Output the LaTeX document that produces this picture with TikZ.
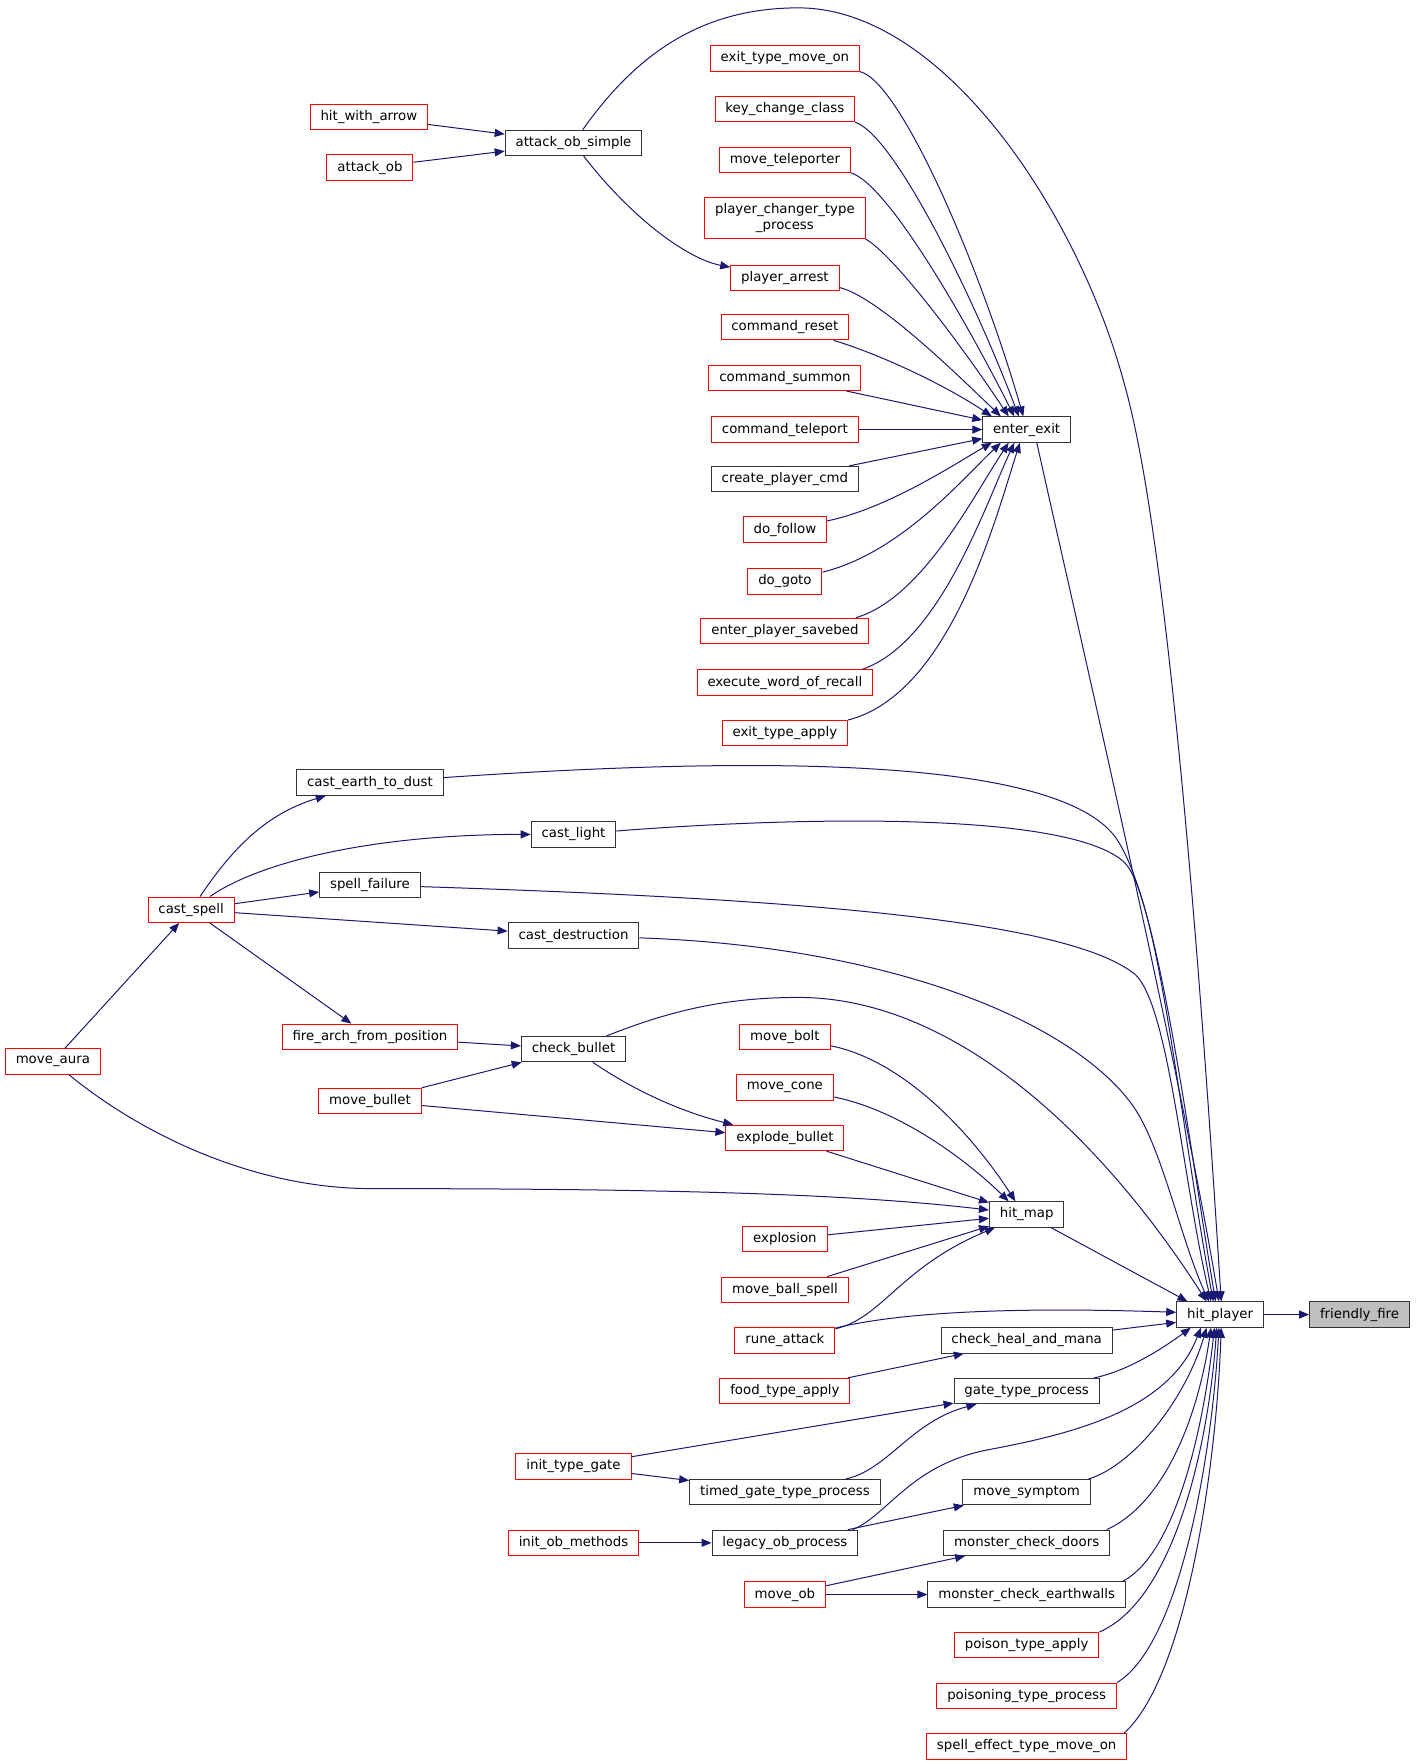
\documentclass[tikz,border=0pt]{standalone}
\usepackage{fontspec}
\setmainfont{DejaVu Sans}
\usetikzlibrary{arrows.meta}
\definecolor{edgeblue}{RGB}{25,25,112}
\definecolor{nodered}{RGB}{255,0,0}
\definecolor{nodegray}{RGB}{191,191,191}
\definecolor{nodeborder}{RGB}{51,51,51}
\begin{document}
\begin{tikzpicture}[x=0.8434pt,y=-0.8434pt,
  fn/.style={rectangle, draw, line width=0.75pt, minimum height=19pt, inner xsep=7.8pt, inner ysep=0pt, font=\fontsize{10}{11.8}\selectfont},
  redfn/.style={fn, draw=nodered},
  blackfn/.style={fn, draw=nodeborder},
  rootfn/.style={fn, draw=nodeborder, fill=nodegray},
  call/.style={draw=edgeblue, line width=0.75pt, -{Triangle[length=7.5pt,width=6pt]}}
]
\useasboundingbox (0,-2) rectangle (1259.2,1566.7);
% column 1-2
\node[redfn] (mau) at (47,942) {move\_aura};
\node[redfn] (cs) at (170,807) {cast\_spell};
% column 3
\node[redfn] (hwa) at (328,102) {hit\_with\_arrow};
\node[redfn] (aob) at (329,147) {attack\_ob};
\node[blackfn] (cetd) at (329,694) {cast\_earth\_to\_dust};
\node[blackfn] (sf) at (329,785) {spell\_failure};
\node[redfn] (fafp) at (329,920) {fire\_arch\_from\_position};
\node[redfn] (mb) at (329,977) {move\_bullet};
% column 4
\node[blackfn] (aos) at (510,125) {attack\_ob\_simple};
\node[blackfn] (cl) at (510,740) {cast\_light};
\node[blackfn] (cd) at (510,830) {cast\_destruction};
\node[blackfn] (cb) at (510,931) {check\_bullet};
\node[redfn] (itg) at (510,1302) {init\_type\_gate};
\node[redfn] (iom) at (510,1370) {init\_ob\_methods};
% column 5
\node[redfn] (etmo) at (698,50) {exit\_type\_move\_on};
\node[redfn] (kcc) at (698,95) {key\_change\_class};
\node[redfn] (mt) at (698,140) {move\_teleporter};
\node[redfn, minimum height=30.5pt, align=center] (pctp) at (698,192) {player\_changer\_type\\\_process};
\node[redfn] (pa) at (698,245) {player\_arrest};
\node[redfn] (cr) at (698,289) {command\_reset};
\node[redfn] (csu) at (698,334) {command\_summon};
\node[redfn] (cte) at (698,380) {command\_teleport};
\node[blackfn] (cpc) at (698,424) {create\_player\_cmd};
\node[redfn] (df) at (698,469) {do\_follow};
\node[redfn] (dg) at (698,515) {do\_goto};
\node[redfn] (eps) at (698,559) {enter\_player\_savebed};
\node[redfn] (ewr) at (698,605) {execute\_word\_of\_recall};
\node[redfn] (eta) at (698,650) {exit\_type\_apply};
\node[redfn] (mbo) at (698,920) {move\_bolt};
\node[redfn] (mc) at (698,965) {move\_cone};
\node[redfn] (eb) at (698,1010) {explode\_bullet};
\node[redfn] (ex) at (698,1100) {explosion};
\node[redfn] (mbs) at (698,1145) {move\_ball\_spell};
\node[redfn] (ra) at (698,1190) {rune\_attack};
\node[redfn] (fta) at (698,1235) {food\_type\_apply};
\node[blackfn] (tgtp) at (698,1325) {timed\_gate\_type\_process};
\node[blackfn] (lop) at (698,1370) {legacy\_ob\_process};
\node[redfn] (mo) at (698,1416) {move\_ob};
% column 6
\node[blackfn] (ee) at (913,380) {enter\_exit};
\node[blackfn] (hm) at (913,1078) {hit\_map};
\node[blackfn] (chm) at (913,1190) {check\_heal\_and\_mana};
\node[blackfn] (gtp) at (913,1235) {gate\_type\_process};
\node[blackfn] (ms) at (913,1325) {move\_symptom};
\node[blackfn] (mcd) at (913,1370) {monster\_check\_doors};
\node[blackfn] (mce) at (913,1416) {monster\_check\_earthwalls};
\node[redfn] (pta) at (913,1461) {poison\_type\_apply};
\node[redfn] (ptp) at (913,1506) {poisoning\_type\_process};
\node[redfn] (setmo) at (913,1551) {spell\_effect\_type\_move\_on};
% column 7-8
\node[blackfn] (hp) at (1085,1167) {hit\_player};
\node[rootfn] (ff) at (1209,1167) {friendly\_fire};

% ---- edges ----
\draw[call] (hp) -- (ff);
% attack_ob_simple
\draw[call] (hwa) -- (aos);
\draw[call] (aob) -- (aos);
\draw[call] (aos) .. controls (560,190) and (610,228) .. (pa);
\draw[call] (aos) .. controls (570,40) and (630,5) .. (710,5) .. controls (840,5) and (960,190) .. (1000,340) .. controls (1040,480) and (1070,900) .. ([shift={(1,0)}]hp.north);
% enter_exit fan
\draw[call] (etmo.south east) .. controls (800,70) and (870,230) .. ([shift={(-3,0)}]ee.north);
\draw[call] (kcc.south east) .. controls (795,118) and (865,260) .. ([shift={(-7,0)}]ee.north);
\draw[call] (mt.south east) .. controls (790,162) and (860,285) .. ([shift={(-11,0)}]ee.north);
\draw[call] (pctp.south east) .. controls (795,225) and (855,305) .. ([shift={(-16,0)}]ee.north);
\draw[call] ([shift={(0,-3)}]pa.south east) .. controls (780,262) and (845,325) .. ([shift={(-23,0)}]ee.north);
\draw[call] ([shift={(-14,0)}]cr.south east) .. controls (780,312) and (840,340) .. ([shift={(-31,0)}]ee.north);
\draw[call] (csu) -- (ee);
\draw[call] (cte) -- (ee);
\draw[call] (cpc) -- (ee);
\draw[call] (df) .. controls (790,450) and (850,410) .. ([shift={(-31,0)}]ee.south);
\draw[call] (dg) .. controls (800,490) and (855,425) .. ([shift={(-23,0)}]ee.south);
\draw[call] ([shift={(-12,0)}]eps.north east) .. controls (820,530) and (865,440) .. ([shift={(-16,0)}]ee.south);
\draw[call] ([shift={(-10,0)}]ewr.north east) .. controls (835,570) and (875,450) .. ([shift={(-11,0)}]ee.south);
\draw[call] (eta.north east) .. controls (845,615) and (885,460) .. ([shift={(-6,0)}]ee.south);
\draw[call] ([shift={(9,0)}]ee.south) .. controls (955,540) and (1050,950) .. ([shift={(-1,0)}]hp.north);
% cast_spell group
\draw[call] (mau) -- (cs);
\draw[call] (cs) .. controls (205,755) and (235,722) .. (cetd);
\draw[call] (cs) .. controls (230,765) and (330,740) .. (cl.west);
\draw[call] (cs) -- (sf);
\draw[call] (cs) -- (cd);
\draw[call] (cs) -- (fafp);
\draw[call] (fafp) -- (cb);
\draw[call] (mb) -- (cb);
\draw[call] (cb) .. controls (560,965) and (600,985) .. (eb);
\draw[call] (mb) -- (eb);
\draw[call] (mau) .. controls (130,1010) and (230,1055) .. (330,1055) .. controls (600,1055) and (760,1060) .. (hm);
% into hit_player top
\draw[call] (cetd) .. controls (650,672) and (930,668) .. (990,740) .. controls (1030,790) and (1055,1000) .. ([shift={(-4,0)}]hp.north);
\draw[call] (cl) .. controls (700,725) and (950,718) .. (1000,765) .. controls (1030,795) and (1050,1000) .. ([shift={(-6,0)}]hp.north);
\draw[call] (sf) .. controls (700,797) and (950,815) .. (1010,865) .. controls (1040,895) and (1052,1050) .. ([shift={(-8,0)}]hp.north);
\draw[call] (cd) .. controls (800,840) and (960,910) .. (1010,985) .. controls (1035,1025) and (1050,1100) .. ([shift={(-10,0)}]hp.north);
\draw[call] (cb) .. controls (600,895) and (650,885) .. (710,885) .. controls (850,885) and (980,1010) .. ([shift={(-12,0)}]hp.north);
% hit_map inputs
\draw[call] (mbo) .. controls (800,940) and (860,1000) .. ([shift={(-10,0)}]hm.north);
\draw[call] (mc) .. controls (800,985) and (860,1030) .. ([shift={(-16,0)}]hm.north);
\draw[call] (eb) -- (hm);
\draw[call] (ex) -- (hm);
\draw[call] (mbs) -- (hm);
\draw[call] (ra) .. controls (785,1170) and (800,1125) .. (hm);
\draw[call] (hm) -- ([shift={(10,0)}]hp.north west);
% left side of hit_player
\draw[call] (ra) .. controls (800,1165) and (900,1160) .. ([shift={(0,-2)}]hp.west);
\draw[call] (fta) -- (chm);
\draw[call] (chm) -- ([shift={(0,7)}]hp.west);
% gates
\draw[call] (itg) -- (gtp);
\draw[call] (itg) -- (tgtp);
\draw[call] (tgtp) .. controls (790,1305) and (810,1262) .. (gtp);
\draw[call] (gtp) .. controls (1000,1218) and (1030,1200) .. ([shift={(13,0)}]hp.south west);
% legacy
\draw[call] (iom) -- (lop);
\draw[call] (lop) -- (ms);
\draw[call] ([shift={(-5,0)}]lop.north east) .. controls (790,1345) and (810,1300) .. (880,1287) .. controls (960,1272) and (1040,1250) .. ([shift={(22,0)}]hp.south west);
\draw[call] ([shift={(-2,0)}]ms.north east) .. controls (1010,1300) and (1055,1240) .. ([shift={(27,0)}]hp.south west);
% monsters
\draw[call] (mo) -- (mcd);
\draw[call] (mo) -- (mce);
\draw[call] ([shift={(-3,0)}]mcd.north east) .. controls (1035,1335) and (1065,1260) .. ([shift={(31,0)}]hp.south west);
\draw[call] ([shift={(-3,0)}]mce.north east) .. controls (1045,1380) and (1070,1270) .. ([shift={(34,0)}]hp.south west);
\draw[call] (pta.north east) .. controls (1045,1420) and (1075,1280) .. ([shift={(36,0)}]hp.south west);
\draw[call] (ptp.north east) .. controls (1050,1460) and (1078,1290) .. ([shift={(38,0)}]hp.south west);
\draw[call] ([shift={(-3,0)}]setmo.north east) .. controls (1055,1490) and (1082,1300) .. ([shift={(40,0)}]hp.south west);
\end{tikzpicture}
\end{document}
